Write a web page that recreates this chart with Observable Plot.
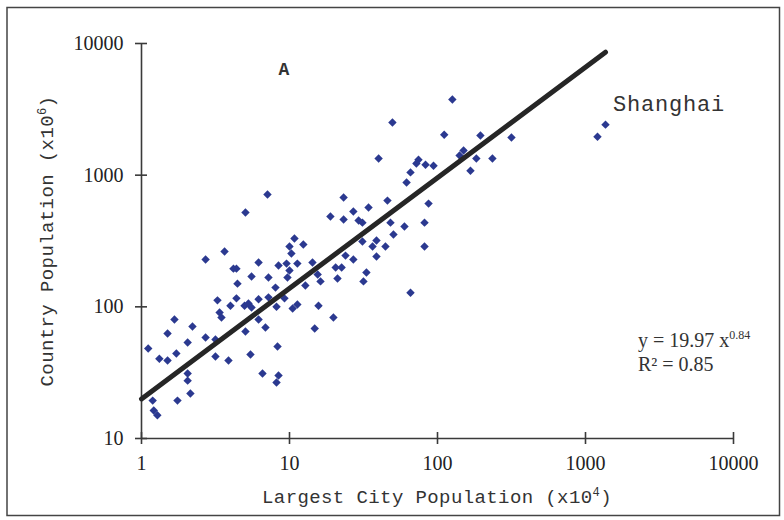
<!DOCTYPE html>
<html><head><meta charset="utf-8">
<script src="https://cdn.jsdelivr.net/npm/d3@7"></script>
<script src="https://cdn.jsdelivr.net/npm/@observablehq/plot@0.6"></script>
<style>body{margin:0;background:#fff}</style>
</head><body><div id="chart"></div>
<script>
// Largest city population (x10^4) per country
const cityPop = [126,49.6,111,195,316,150,141,183,235,167,1205,1365,40,74.4,72,83,94,65.7,61.8,87,
  23.2,45.9,34.2,27,23.2,29.3,31.1,48.1,59.8,81.7,50.4,31.1,38.7,36.4,44.5,81.7,38.7,27,23.9,22.5,
  33.1,31.6,65.7,18.9,7.1,5.04,10.8,12.4,10.3,10,6.18,4.38,5.54,7.21,8.43,9.55,10,9.69,11.3,14.3,
  15.5,16.2,20.5,21.1,3.64,2.71,4.18,4.45,3.26,4.38,3.99,3.37,3.47,1.67,1.5,2.21,2.05,2.71,3.16,1.11,
  1.32,1.5,1.72,3.16,3.87,2.05,2.05,2.14,1.75,1.19,1.21,1.28,4.97,5.28,5.54,6.18,7.21,8.04,8.17,6.18,
  6.88,5.04,5.45,8.3,6.57,8.43,8.17,9.25,10.5,11.3,12.8,15.7,19.8,14.8];
// Country population (x10^6)
const countryPop = [3750,2510,2030,2000,1930,1540,1410,1340,1340,1080,1960,2420,1340,1310,1225,1200,1180,1050,880,608,
  676,641,568,530,460,452,436,436,407,436,354,313,319,287,287,287,241,229,245,199,
  182,156,128,485,713,520,330,297,254,287,217,195,170,167,206,213,189,167,213,217,
  176,156,199,164,263,229,195,150,112,116,102,90.6,83,80.2,62.7,70.8,53.6,58.5,56.5,48.2,
  40.4,39.1,44.2,42,39.1,31.2,27.5,22,19.4,19.4,16.3,15,102,106,98.9,114,118,140,100,80.2,
  69.6,64.9,43.4,50,31.2,30.1,26.6,116,97.1,104,145,102,83,68.4];
const xTicks = [1, 10, 100, 1000, 10000];
const yTicks = [10, 100, 1000, 10000];
// Power-law trend line end points (y = 19.97 x^0.84)
const fitX = [1, 1365];
const fitY = [19.97, 8590];

const points = cityPop.map((x, i) => ({x, y: countryPop[i]}));
const fit = fitX.map((x, i) => ({x, y: fitY[i]}));

const axisColor = "#3a3a3a";
const plot = Plot.plot({
  width: 784, height: 520,
  marginLeft: 141, marginRight: 51, marginTop: 43, marginBottom: 82,
  style: {fontFamily: "'Liberation Serif', 'Times New Roman', serif", fontSize: "20px", color: "#222", background: "#fff"},
  x: {type: "log", domain: [1, 10000]},
  y: {type: "log", domain: [10, 10000]},
  marks: [
    Plot.ruleX([1], {stroke: axisColor, strokeWidth: 1.6}),
    Plot.ruleY([10], {stroke: axisColor, strokeWidth: 1.6}),
    Plot.ruleY(yTicks, {y: d => d, x1: 1, x2: 1, insetLeft: -6, insetRight: -6, stroke: axisColor, strokeWidth: 1.6}),
    Plot.ruleX(xTicks, {x: d => d, y1: 10, y2: 10, insetTop: -6, insetBottom: -6, stroke: axisColor, strokeWidth: 1.6}),
    Plot.axisX({ticks: xTicks, tickSize: 0, tickPadding: 17, label: null, tickFormat: d => String(d), fontSize: 20}),
    Plot.axisY({ticks: yTicks, tickSize: 0, tickPadding: 18, label: null, tickFormat: d => String(d), fontSize: 20}),
    Plot.dot(points, {x: "x", y: "y", symbol: "diamond2", r: 3.8, fill: "#2b3990", stroke: "none"}),
    Plot.line(fit, {x: "x", y: "y", stroke: "#262626", strokeWidth: 5, strokeLinecap: "round"})
  ]
});

const svg = d3.select(plot);
svg.append("rect").attr("x", 7).attr("y", 7.5).attr("width", 772.5).attr("height", 508)
  .attr("fill", "none").attr("stroke", "#444").attr("stroke-width", 1.5);

const mono = "'Liberation Mono', 'Courier New', monospace";
function supText(sel, main, sup, tail, supSize, rise) {
  sel.append("tspan").text(main);
  sel.append("tspan").attr("dy", -rise).attr("font-size", supSize).text(sup);
  if (tail) sel.append("tspan").attr("dy", rise).text(tail);
}
const xt = svg.append("text").attr("x", 437).attr("y", 503).attr("text-anchor", "middle")
  .attr("font-family", mono).attr("font-size", 19).attr("letter-spacing", 0.4).attr("fill", "#333");
supText(xt, "Largest City Population (x10", "4", ")", 12, 7);

const yt = svg.append("text").attr("transform", "translate(53,241) rotate(-90)").attr("text-anchor", "middle")
  .attr("font-family", mono).attr("font-size", 19).attr("letter-spacing", 0.4).attr("fill", "#333");
supText(yt, "Country Population (x10", "6", ")", 12, 7);

svg.append("text").attr("x", 284).attr("y", 75).attr("text-anchor", "middle")
  .attr("font-family", mono).attr("font-weight", "bold").attr("font-size", 18).attr("fill", "#333").text("A");

svg.append("text").attr("x", 613).attr("y", 111).attr("text-anchor", "start")
  .attr("font-family", mono).attr("font-size", 22).attr("letter-spacing", 0.8).attr("fill", "#333").text("Shanghai");

const serif = "'Liberation Serif', 'Times New Roman', serif";
const eq = svg.append("text").attr("x", 638).attr("y", 347).attr("text-anchor", "start")
  .attr("font-family", serif).attr("font-size", 20).attr("fill", "#333");
supText(eq, "y = 19.97 x", "0.84", null, 12, 8);
svg.append("text").attr("x", 638).attr("y", 371).attr("text-anchor", "start")
  .attr("font-family", serif).attr("font-size", 20).attr("fill", "#333").text("R² = 0.85");

document.getElementById("chart").appendChild(plot);
</script>
</body></html>
